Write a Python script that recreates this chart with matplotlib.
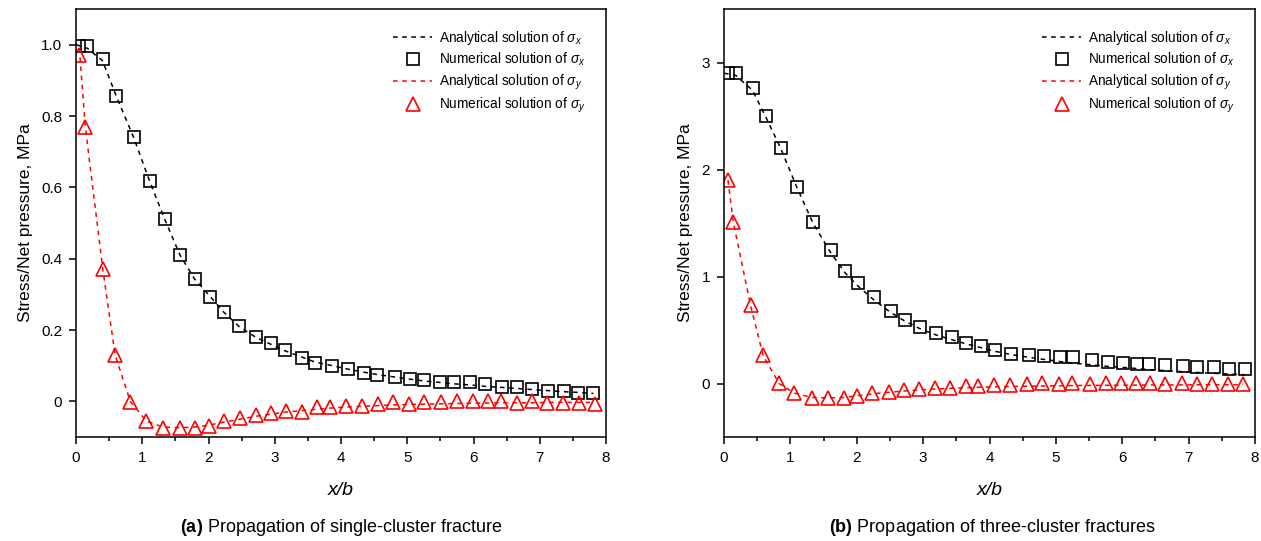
import matplotlib
matplotlib.use("Agg")
import matplotlib.pyplot as plt
from matplotlib.ticker import MultipleLocator

plt.rcParams['font.family'] = ['Liberation Sans', 'DejaVu Sans']
plt.rcParams['mathtext.fontset'] = 'custom'
plt.rcParams['mathtext.rm'] = 'Liberation Sans'
plt.rcParams['mathtext.it'] = 'Liberation Sans:italic'
plt.rcParams['mathtext.bf'] = 'Liberation Sans:bold'

# (a) single-cluster fracture
xa_sq = [0.05, 0.17, 0.40, 0.61, 0.87, 1.11, 1.34, 1.57, 1.79, 2.03, 2.23, 2.46,
         2.71, 2.94, 3.15, 3.41, 3.61, 3.87, 4.11, 4.34, 4.55, 4.82, 5.04, 5.26,
         5.49, 5.71, 5.95, 6.17, 6.43, 6.66, 6.89, 7.13, 7.36, 7.58, 7.81]
sxa_num = [0.995, 0.995, 0.96, 0.857, 0.741, 0.618, 0.510, 0.411, 0.343, 0.293,
           0.251, 0.210, 0.181, 0.163, 0.144, 0.122, 0.108, 0.100, 0.091, 0.079,
           0.074, 0.069, 0.064, 0.060, 0.053, 0.053, 0.053, 0.049, 0.039, 0.039,
           0.034, 0.029, 0.029, 0.024, 0.024]
xa_line = [0.0] + xa_sq[1:]
sxa_ana = [1.0, 0.99, 0.955, 0.855, 0.74, 0.618, 0.51, 0.41, 0.343, 0.293, 0.25,
           0.21, 0.18, 0.16, 0.142, 0.124, 0.11, 0.10, 0.09, 0.082, 0.075, 0.068,
           0.062, 0.057, 0.053, 0.049, 0.046, 0.042, 0.039, 0.036, 0.033, 0.030,
           0.027, 0.025, 0.022]
xa_tri = [0.05, 0.14, 0.405, 0.59, 0.82, 1.06, 1.31, 1.57, 1.80, 2.00, 2.24, 2.48,
          2.71, 2.94, 3.17, 3.41, 3.64, 3.83, 4.08, 4.31, 4.56, 4.78, 5.03, 5.25,
          5.51, 5.75, 5.99, 6.22, 6.42, 6.65, 6.89, 7.11, 7.35, 7.59, 7.83]
sya_num = [0.97, 0.77, 0.371, 0.131, -0.001, -0.056, -0.075, -0.075, -0.075,
           -0.068, -0.056, -0.048, -0.037, -0.034, -0.026, -0.029, -0.017, -0.017,
           -0.014, -0.014, -0.007, -0.003, -0.007, -0.003, -0.003, 0, 0, 0, 0,
           -0.006, 0, -0.006, -0.006, -0.006, -0.007]
sya_ana = [0.99, 0.77, 0.37, 0.13, 0.0, -0.055, -0.072, -0.074, -0.072, -0.067,
           -0.058, -0.05, -0.042, -0.036, -0.030, -0.026, -0.022, -0.019, -0.016,
           -0.014, -0.012, -0.010, -0.009, -0.008, -0.007, -0.006, -0.005, -0.005,
           -0.004, -0.004, -0.004, -0.003, -0.003, -0.003, -0.003]

# (b) three-cluster fractures
xb_sq = [0.056, 0.176, 0.43, 0.63, 0.86, 1.10, 1.34, 1.61, 1.83, 2.02, 2.26, 2.51,
         2.72, 2.96, 3.19, 3.43, 3.65, 3.87, 4.09, 4.33, 4.59, 4.82, 5.06, 5.26,
         5.54, 5.78, 6.01, 6.22, 6.41, 6.65, 6.92, 7.13, 7.38, 7.61, 7.85]
sxb_num = [2.90, 2.90, 2.76, 2.50, 2.20, 1.84, 1.51, 1.246, 1.050, 0.935, 0.804,
           0.679, 0.598, 0.530, 0.474, 0.430, 0.380, 0.349, 0.312, 0.280, 0.265,
           0.255, 0.243, 0.243, 0.218, 0.202, 0.193, 0.181, 0.181, 0.171, 0.162,
           0.150, 0.150, 0.140, 0.140]
xb_line = [0.0] + xb_sq[1:]
sxb_ana = [2.90, 2.88, 2.74, 2.49, 2.19, 1.83, 1.50, 1.22, 1.03, 0.91, 0.78, 0.665,
           0.585, 0.51, 0.455, 0.41, 0.37, 0.335, 0.30, 0.27, 0.245, 0.225, 0.205,
           0.19, 0.175, 0.16, 0.15, 0.14, 0.13, 0.12, 0.11, 0.103, 0.095, 0.088,
           0.082]
xb_tri = [0.06, 0.14, 0.40, 0.59, 0.83, 1.06, 1.32, 1.57, 1.81, 2.00, 2.23, 2.49,
          2.71, 2.94, 3.18, 3.41, 3.64, 3.83, 4.07, 4.31, 4.57, 4.79, 5.05, 5.25,
          5.52, 5.75, 5.98, 6.21, 6.42, 6.65, 6.90, 7.12, 7.35, 7.59, 7.82]
syb_num = [1.90, 1.51, 0.735, 0.265, 0.006, -0.093, -0.134, -0.134, -0.134, -0.115,
           -0.093, -0.078, -0.062, -0.053, -0.040, -0.040, -0.022, -0.022, -0.016,
           -0.016, -0.006, 0.009, -0.006, 0.009, 0, 0.009, 0.009, 0.009, 0.009, 0,
           0.009, 0, 0, 0, 0]
syb_ana = [1.90, 1.51, 0.73, 0.26, 0.0, -0.09, -0.13, -0.135, -0.13, -0.115, -0.097,
           -0.082, -0.07, -0.06, -0.052, -0.045, -0.04, -0.035, -0.031, -0.028,
           -0.025, -0.023, -0.021, -0.019, -0.018, -0.017, -0.016, -0.015, -0.014,
           -0.013, -0.013, -0.012, -0.012, -0.011, -0.011]

labels = [r'Analytical solution of $\sigma_x$', r'Numerical solution of $\sigma_x$',
          r'Analytical solution of $\sigma_y$', r'Numerical solution of $\sigma_y$']


def stress_panel(ax, xl, sx_ana, xs, sx_num, xt, sy_ana, sy_num, ylim, ystep, fmt):
    ax.plot(xl, sx_ana, color='black', ls=(0, (3, 3)), lw=1.1, label=labels[0])
    ax.plot(xs, sx_num, ls='none', marker='s', ms=9, mfc='none', mec='black',
            mew=1.2, label=labels[1])
    ax.plot(xt, sy_ana, color='red', ls=(0, (3, 3)), lw=1.1, label=labels[2])
    ax.plot(xt, sy_num, ls='none', marker='^', ms=10, mfc='none', mec='red',
            mew=1.2, label=labels[3])

    ax.set_xlim(0, 8)
    ax.set_ylim(*ylim)
    ax.xaxis.set_major_locator(MultipleLocator(1))
    ax.xaxis.set_minor_locator(MultipleLocator(0.5))
    ax.yaxis.set_major_locator(MultipleLocator(ystep))
    ax.yaxis.set_major_formatter(fmt)
    ax.tick_params(which='major', direction='out', length=5, width=1.1,
                   labelsize=11, pad=5)
    ax.tick_params(axis='x', which='minor', direction='out', length=3, width=1.1)
    ax.tick_params(axis='y', which='minor', left=False)
    for s in ax.spines.values():
        s.set_linewidth(1.1)

    ax.set_xlabel('x/b', style='italic', fontsize=14, labelpad=12)
    ax.set_ylabel('Stress/Net pressure, MPa', fontsize=12.5, labelpad=6)
    ax.legend(loc='upper right', frameon=False, fontsize=9.8, handlelength=2.9,
              handletextpad=0.5, labelspacing=0.3, borderaxespad=0.9,
              bbox_to_anchor=(0.995, 0.995))
    return ax


fig = plt.figure(figsize=(12.61, 5.41), dpi=100)
ax1 = fig.add_axes([76 / 1261, 1 - 437 / 541, 530 / 1261, 428 / 541])
ax2 = fig.add_axes([724 / 1261, 1 - 437 / 541, 531 / 1261, 428 / 541])

stress_panel(ax1, xa_line, sxa_ana, xa_sq, sxa_num, xa_tri, sya_ana, sya_num,
             (-0.1, 1.1), 0.2, lambda v, p: '0' if abs(v) < 1e-9 else '%.1f' % v)
stress_panel(ax2, xb_line, sxb_ana, xb_sq, sxb_num, xb_tri, syb_ana, syb_num,
             (-0.5, 3.5), 1, lambda v, p: '%d' % round(v))

fig.text(341 / 1261, 1 - 527 / 541, r'$\mathbf{(a)}$ Propagation of single-cluster fracture',
         ha='center', va='center', fontsize=13)
fig.text(992 / 1261, 1 - 527 / 541, r'$\mathbf{(b)}$ Propagation of three-cluster fractures',
         ha='center', va='center', fontsize=13)

fig.savefig('out.png', dpi=100)
